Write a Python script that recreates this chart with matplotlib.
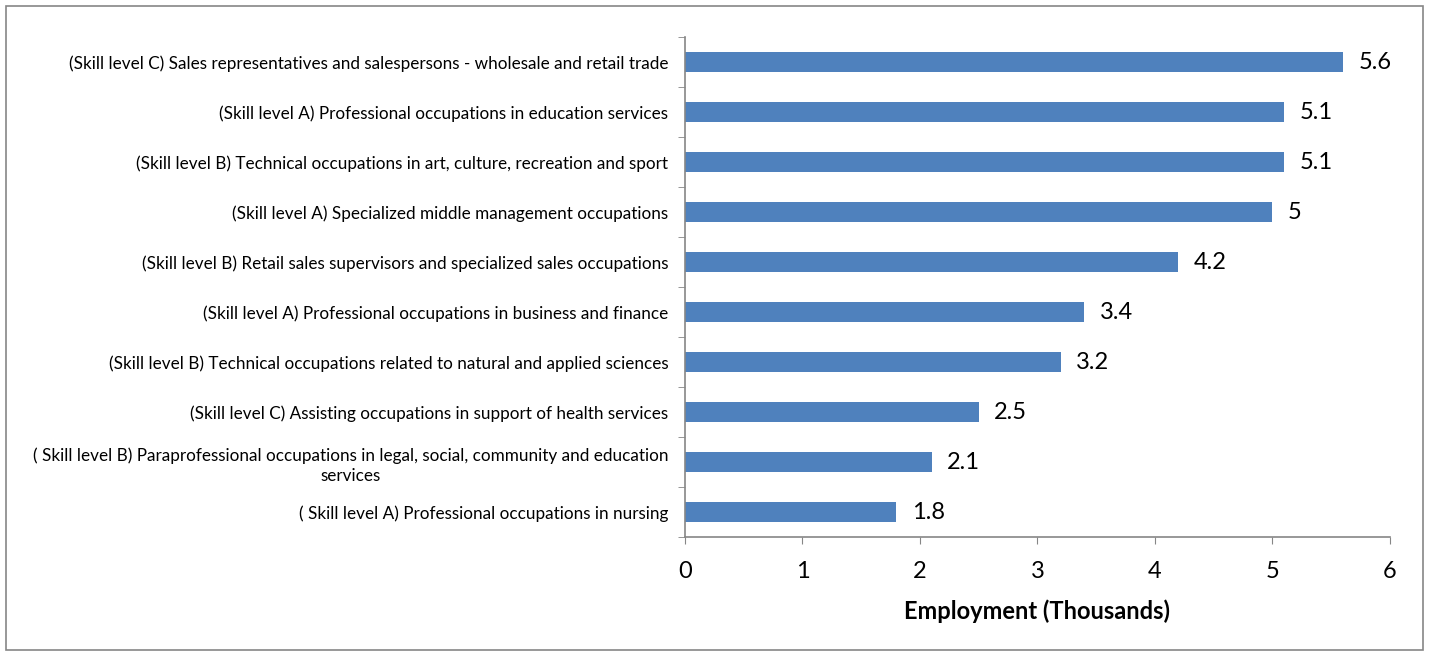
import matplotlib
matplotlib.use('Agg')
import matplotlib.pyplot as plt
from matplotlib.patches import Rectangle

plt.rcParams['font.family'] = ['Lato', 'DejaVu Sans']

# occupations, bottom to top as drawn
occupations = [
    '( Skill level A) Professional occupations in nursing',
    '( Skill level B) Paraprofessional occupations in legal, social, community and education\nservices',
    '(Skill level C) Assisting occupations in support of health services',
    '(Skill level B) Technical occupations related to natural and applied sciences',
    '(Skill level A) Professional occupations in business and finance',
    '(Skill level B) Retail sales supervisors and specialized sales occupations',
    '(Skill level A) Specialized middle management occupations',
    '(Skill level B) Technical occupations in art, culture, recreation and sport',
    '(Skill level A) Professional occupations in education services',
    '(Skill level C) Sales representatives and salespersons - wholesale and retail trade',
]
employment = [1.8, 2.1, 2.5, 3.2, 3.4, 4.2, 5.0, 5.1, 5.1, 5.6]
value_labels = ['1.8', '2.1', '2.5', '3.2', '3.4', '4.2', '5', '5.1', '5.1', '5.6']

fig = plt.figure(figsize=(14.3, 6.54), dpi=100)
ax = fig.add_axes([0.479, 0.1789, 0.4930, 0.7645])

pos = range(len(occupations))
ax.barh(pos, employment, height=0.4, color='#4F81BD')
for y, v, s in zip(pos, employment, value_labels):
    ax.text(v + 0.13, y, s, va='center', ha='left', fontsize=17)

ax.set_xlim(0, 6)
ax.set_ylim(-0.5, len(occupations) - 0.5)
ax.set_xticks(range(7))
ax.tick_params(axis='x', labelsize=17, length=5, color='#868686', pad=12)
ax.set_yticks(pos)
ax.set_yticklabels(occupations, fontsize=12.3, ha='right', multialignment='center',
                   linespacing=1.3)
ax.set_yticks([p - 0.5 for p in range(len(occupations) + 1)], minor=True)
ax.tick_params(axis='y', which='major', length=0, pad=12)
ax.tick_params(axis='y', which='minor', length=5, color='#868686')

for side in ['top', 'right']:
    ax.spines[side].set_visible(False)
for side in ['left', 'bottom']:
    ax.spines[side].set_color('#868686')
    ax.spines[side].set_linewidth(1.2)

ax.set_xlabel('Employment (Thousands)', fontsize=17, fontweight='bold', labelpad=13)

# outer chart border
fig.patches.append(Rectangle((0.004, 0.006), 0.991, 0.985, transform=fig.transFigure,
                             fill=False, edgecolor='#868686', linewidth=1.2))

fig.savefig('out.png', dpi=100)
